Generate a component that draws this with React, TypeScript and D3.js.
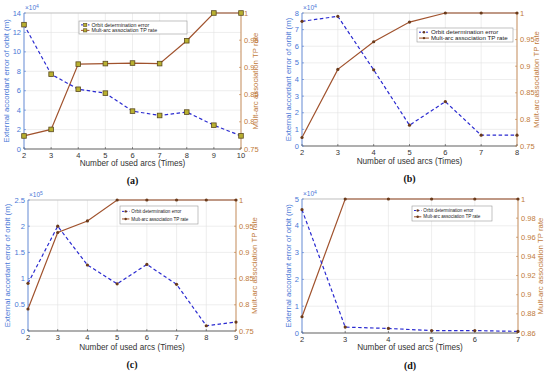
import React from "react";
import * as d3 from "d3";

// ---- Data ----
const arcsA = [2, 3, 4, 5, 6, 7, 8, 9, 10];
const errA = [12.8, 7.7, 6.15, 5.75, 3.9, 3.45, 3.8, 2.45, 1.35];
const tpA = [0.774, 0.786, 0.906, 0.907, 0.908, 0.907, 0.949, 1, 1];

const arcsB = [2, 3, 4, 5, 6, 7, 8];
const errB = [7.5, 7.8, 4.58, 1.25, 2.67, 0.65, 0.65];
const tpB = [0.766, 0.894, 0.946, 0.983, 1, 1, 1];

const arcsC = [2, 3, 4, 5, 6, 7, 8, 9];
const errC = [0.91, 2.0, 1.26, 0.9, 1.27, 0.89, 0.1, 0.17];
const tpC = [0.792, 0.938, 0.96, 1, 1, 1, 1, 1];

const arcsD = [2, 3, 4, 5, 6, 7];
const errD = [4.6, 0.22, 0.17, 0.09, 0.09, 0.06];
const tpD = [0.877, 1, 1, 1, 1, 1];

const leftTicksA = [0, 2, 4, 6, 8, 10, 12, 14];
const leftTicksB = [0, 1, 2, 3, 4, 5, 6, 7, 8];
const leftTicksC = [0, 0.5, 1, 1.5, 2, 2.5];
const leftTicksD = [0, 1, 2, 3, 4, 5];
const rightTicksABC = [0.75, 0.8, 0.85, 0.9, 0.95, 1];
const rightTicksD = [0.86, 0.88, 0.9, 0.92, 0.94, 0.96, 0.98, 1];

const legendLabels = ["Orbit determination error", "Mult-arc association TP rate"];
const xLabel = "Number of used arcs (Times)";
const leftLabel = "External accordant error of orbit (m)";
const rightLabel = "Mult-arc association TP rate";

const BLUE = "#4a78d6";
const LINE_BLUE = "#2a2ad0";
const BROWN = "#a0522d";
const RIGHT_COL = "#c07a3a";
const FONT = "'Liberation Sans', Arial, sans-serif";

type PanelProps = {
  x: number[]; err: number[]; tp: number[];
  left: number; right: number; top: number; bottom: number;
  leftTicks: number[]; rightTicks: number[]; exp: string;
  label: string; labelY: number; xLabelY: number;
  square?: boolean;
  legend: { x: number; y: number; w: number; h: number; fs: number };
  leftLabelX: number; rightLabelX: number;
};

function Panel(p: PanelProps) {
  const xs = d3.scaleLinear().domain([p.x[0], p.x[p.x.length - 1]]).range([p.left, p.right]);
  const yl = d3.scaleLinear().domain([p.leftTicks[0], p.leftTicks[p.leftTicks.length - 1]]).range([p.bottom, p.top]);
  const yr = d3.scaleLinear().domain([p.rightTicks[0], p.rightTicks[p.rightTicks.length - 1]]).range([p.bottom, p.top]);
  const errLine = d3.line<number>().x((_, i) => xs(p.x[i])).y((d) => yl(d))(p.err) || "";
  const tpLine = d3.line<number>().x((_, i) => xs(p.x[i])).y((d) => yr(d))(p.tp) || "";
  const cx = (p.left + p.right) / 2;
  const cy = (p.top + p.bottom) / 2;
  const fmt = (v: number) => String(+v.toFixed(2));
  const marker = (mx: number, my: number, key: string) =>
    p.square ? (
      <rect key={key} x={mx - 2.3} y={my - 2.3} width={4.6} height={4.6} fill="#b8b030" stroke="#5a4a20" strokeWidth={0.8} />
    ) : (
      <circle key={key} cx={mx} cy={my} r={1.6} fill="#6a3a1a" />
    );
  const lg = p.legend;
  return (
    <g fontFamily={FONT}>
      <rect x={p.left} y={p.top} width={p.right - p.left} height={p.bottom - p.top} fill="#fff" />
      {p.x.map((v) => (
        <line key={"gx" + v} x1={xs(v)} x2={xs(v)} y1={p.top} y2={p.bottom} stroke="#e2e2e2" strokeWidth={0.6} />
      ))}
      {p.leftTicks.map((v) => (
        <line key={"gy" + v} x1={p.left} x2={p.right} y1={yl(v)} y2={yl(v)} stroke="#e2e2e2" strokeWidth={0.6} />
      ))}
      {/* box */}
      <line x1={p.left} x2={p.right} y1={p.top} y2={p.top} stroke="#bbb" strokeWidth={0.8} />
      <line x1={p.left} x2={p.right} y1={p.bottom} y2={p.bottom} stroke="#444" strokeWidth={0.8} />
      <line x1={p.left} x2={p.left} y1={p.top} y2={p.bottom} stroke={BLUE} strokeWidth={0.8} />
      <line x1={p.right} x2={p.right} y1={p.top} y2={p.bottom} stroke={RIGHT_COL} strokeWidth={0.8} />
      {/* x ticks */}
      {p.x.map((v) => (
        <g key={"xt" + v}>
          <line x1={xs(v)} x2={xs(v)} y1={p.bottom} y2={p.bottom - 2} stroke="#444" strokeWidth={0.6} />
          <text x={xs(v)} y={p.bottom + 9} fontSize={7.5} fill="#333" textAnchor="middle">{v}</text>
        </g>
      ))}
      {p.leftTicks.map((v) => (
        <g key={"lt" + v}>
          <line x1={p.left} x2={p.left + 2} y1={yl(v)} y2={yl(v)} stroke={BLUE} strokeWidth={0.6} />
          <text x={p.left - 3} y={yl(v) + 2.6} fontSize={7.5} fill={BLUE} textAnchor="end">{fmt(v)}</text>
        </g>
      ))}
      {p.rightTicks.map((v) => (
        <g key={"rt" + v}>
          <line x1={p.right} x2={p.right - 2} y1={yr(v)} y2={yr(v)} stroke={RIGHT_COL} strokeWidth={0.6} />
          <text x={p.right + 3} y={yr(v) + 2.6} fontSize={7.5} fill={RIGHT_COL} textAnchor="start">{fmt(v)}</text>
        </g>
      ))}
      <text x={p.left + 1} y={p.top - 3} fontSize={6.5} fill={BLUE}>
        ×10<tspan dy={-2.5} fontSize={5}>{p.exp}</tspan>
      </text>
      {/* lines */}
      <path d={tpLine} fill="none" stroke={BROWN} strokeWidth={1.2} />
      <path d={errLine} fill="none" stroke={LINE_BLUE} strokeWidth={1.2} strokeDasharray="3.5,2.5" />
      {p.tp.map((v, i) => marker(xs(p.x[i]), yr(v), "mt" + i))}
      {p.err.map((v, i) => marker(xs(p.x[i]), yl(v), "me" + i))}
      {/* labels */}
      <text x={cx} y={p.xLabelY} fontSize={8.2} fill="#333" textAnchor="middle">{xLabel}</text>
      <text transform={`translate(${p.leftLabelX},${cy}) rotate(-90)`} fontSize={7.8} fill={BLUE} textAnchor="middle">{leftLabel}</text>
      <text transform={`translate(${p.rightLabelX},${cy}) rotate(-90)`} fontSize={7.8} fill={RIGHT_COL} textAnchor="middle">{rightLabel}</text>
      <text x={cx} y={p.labelY} fontSize={10} fontWeight="bold" fontFamily="'Liberation Serif', 'Times New Roman', serif" fill="#111" textAnchor="middle">({p.label})</text>
      {/* legend */}
      <rect x={lg.x} y={lg.y} width={lg.w} height={lg.h} fill="#fff" stroke="#999" strokeWidth={0.6} />
      {[0, 1].map((k) => {
        const ly = lg.y + lg.h * (k === 0 ? 0.3 : 0.72);
        return (
          <g key={"lg" + k}>
            <line x1={lg.x + 2} x2={lg.x + 2 + lg.fs * 1.6} y1={ly} y2={ly} stroke={k === 0 ? LINE_BLUE : BROWN} strokeWidth={1} strokeDasharray={k === 0 ? "2,1.5" : undefined} />
            {p.square ? (
              <rect x={lg.x + 2 + lg.fs * 0.8 - 1.6} y={ly - 1.6} width={3.2} height={3.2} fill="#b8b030" stroke="#5a4a20" strokeWidth={0.6} />
            ) : (
              <circle cx={lg.x + 2 + lg.fs * 0.8} cy={ly} r={1.2} fill="#6a3a1a" />
            )}
            <text x={lg.x + 4 + lg.fs * 1.6} y={ly + lg.fs * 0.35} fontSize={lg.fs} fill="#222">{legendLabels[k]}</text>
          </g>
        );
      })}
    </g>
  );
}

export default function App() {
  return (
    <svg width={550} height={373} style={{ position: "absolute", left: 0, top: 0, background: "#fff" }}>
      <rect width={550} height={373} fill="#fff" />
      <Panel x={arcsA} err={errA} tp={tpA} left={24} right={241} top={13} bottom={149}
        leftTicks={leftTicksA} rightTicks={rightTicksABC} exp="4" label="a" labelY={184} xLabelY={166}
        square legend={{ x: 79, y: 21, w: 108, h: 13, fs: 5.3 }} leftLabelX={9} rightLabelX={258} />
      <Panel x={arcsB} err={errB} tp={tpB} left={302} right={517} top={13} bottom={146}
        leftTicks={leftTicksB} rightTicks={rightTicksABC} exp="4" label="b" labelY={182} xLabelY={164}
        legend={{ x: 417, y: 28, w: 96, h: 14, fs: 6.2 }} leftLabelX={291} rightLabelX={539} />
      <Panel x={arcsC} err={errC} tp={tpC} left={28} right={236} top={200} bottom={331}
        leftTicks={leftTicksC} rightTicks={rightTicksABC} exp="5" label="c" labelY={368} xLabelY={350}
        legend={{ x: 120, y: 206, w: 78, h: 18, fs: 4.6 }} leftLabelX={10} rightLabelX={257} />
      <Panel x={arcsD} err={errD} tp={tpD} left={302} right={518} top={199} bottom={333}
        leftTicks={leftTicksD} rightTicks={rightTicksD} exp="4" label="d" labelY={369} xLabelY={350}
        legend={{ x: 412, y: 206, w: 80, h: 15, fs: 4.6 }} leftLabelX={291} rightLabelX={543} />
    </svg>
  );
}
